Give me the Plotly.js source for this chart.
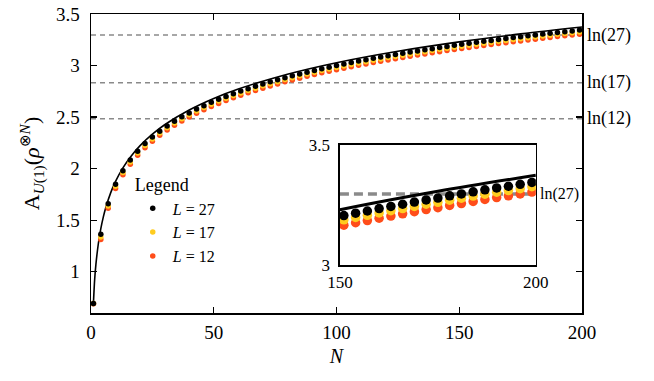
<!DOCTYPE html>
<html>
<head>
<meta charset="utf-8">
<script src="https://cdn.plot.ly/plotly-3.0.1.min.js"></script>
<style>
  html, body { margin: 0; padding: 0; background: #fff; }
  #chart { width: 654px; height: 381px; }
</style>
</head>
<body>
<div id="chart"></div>
<script>
// sampled sizes N (every third value)
const nVals = [1, 4, 7, 10, 13, 16, 19, 22, 25, 28, 31, 34, 37, 40, 43, 46, 49, 52, 55, 58,
  61, 64, 67, 70, 73, 76, 79, 82, 85, 88, 91, 94, 97, 100, 103, 106, 109, 112, 115, 118,
  121, 124, 127, 130, 133, 136, 139, 142, 145, 148, 151, 154, 157, 160, 163, 166, 169, 172, 175, 178,
  181, 184, 187, 190, 193, 196, 199];

const aL27 = [0.693, 1.365, 1.660, 1.848, 1.980, 2.083, 2.169, 2.243, 2.306, 2.363,
  2.414, 2.460, 2.503, 2.541, 2.578, 2.611, 2.643, 2.673, 2.701, 2.727,
  2.752, 2.776, 2.799, 2.821, 2.842, 2.862, 2.882, 2.900, 2.918, 2.936,
  2.952, 2.969, 2.984, 3.000, 3.014, 3.029, 3.043, 3.056, 3.070, 3.082,
  3.095, 3.107, 3.119, 3.131, 3.142, 3.153, 3.164, 3.175, 3.185, 3.196,
  3.206, 3.216, 3.225, 3.235, 3.244, 3.253, 3.262, 3.271, 3.279, 3.288,
  3.296, 3.305, 3.313, 3.321, 3.328, 3.336, 3.344];

const aL17 = [0.693, 1.338, 1.637, 1.830, 1.962, 2.065, 2.151, 2.225, 2.288, 2.345,
  2.396, 2.442, 2.485, 2.523, 2.560, 2.593, 2.625, 2.655, 2.683, 2.709,
  2.734, 2.758, 2.781, 2.803, 2.824, 2.844, 2.864, 2.882, 2.900, 2.918,
  2.934, 2.951, 2.966, 2.982, 2.996, 3.011, 3.025, 3.038, 3.052, 3.064,
  3.077, 3.089, 3.101, 3.113, 3.124, 3.135, 3.146, 3.157, 3.167, 3.178,
  3.188, 3.198, 3.207, 3.217, 3.226, 3.235, 3.244, 3.253, 3.261, 3.270,
  3.278, 3.287, 3.295, 3.303, 3.310, 3.318, 3.326];

const aL12 = [0.690, 1.312, 1.615, 1.808, 1.940, 2.043, 2.129, 2.203, 2.266, 2.323,
  2.374, 2.420, 2.463, 2.501, 2.538, 2.571, 2.603, 2.633, 2.661, 2.687,
  2.712, 2.736, 2.759, 2.781, 2.802, 2.822, 2.842, 2.860, 2.878, 2.896,
  2.912, 2.929, 2.944, 2.960, 2.974, 2.989, 3.003, 3.016, 3.030, 3.042,
  3.055, 3.067, 3.079, 3.091, 3.102, 3.113, 3.124, 3.135, 3.145, 3.156,
  3.166, 3.176, 3.185, 3.195, 3.204, 3.213, 3.222, 3.231, 3.239, 3.248,
  3.256, 3.265, 3.273, 3.281, 3.288, 3.296, 3.304];

// asymptotic curve (black line)
const curveN = [1, 1.5, 2, 3, 4, 5, 6, 8, 10, 13, 16, 20, 25, 30, 40, 50, 60, 80, 100, 125, 150, 175, 200];
const curveA = [0.70, 0.928, 1.072, 1.274, 1.418, 1.530, 1.621, 1.765, 1.876, 2.007, 2.111, 2.223,
  2.334, 2.426, 2.569, 2.681, 2.772, 2.916, 3.028, 3.139, 3.230, 3.307, 3.374];

// reference levels ln(L)
const levelLabels = ['ln(27)', 'ln(17)', 'ln(12)'];
const levelValues = [3.296, 2.833, 2.485];

const series = [
  { name: '<i>L</i> = 12', y: aL12, color: '#ff4d1a', rank: 3 },
  { name: '<i>L</i> = 17', y: aL17, color: '#ffcc1f', rank: 2 },
  { name: '<i>L</i> = 27', y: aL27, color: '#000000', rank: 1 },
];

const FONT = "'Liberation Serif', 'Times New Roman', Times, serif";

const traces = [];
traces.push({
  x: curveN, y: curveA, mode: 'lines', line: { color: '#000', width: 1.6, shape: 'spline' },
  showlegend: false, hoverinfo: 'skip',
});
series.forEach(s => {
  traces.push({
    x: nVals, y: s.y, mode: 'markers', name: s.name, legendrank: s.rank,
    marker: { color: s.color, size: 5.5 },
  });
});
// inset
traces.push({
  x: curveN, y: curveA, mode: 'lines', xaxis: 'x2', yaxis: 'y2',
  line: { color: '#000', width: 3, shape: 'spline' }, showlegend: false, hoverinfo: 'skip',
});
series.forEach(s => {
  traces.push({
    x: nVals, y: s.y, mode: 'markers', xaxis: 'x2', yaxis: 'y2', showlegend: false,
    marker: { color: s.color, size: 9.5 },
  });
});

const shapes = levelValues.map(v => ({
  type: 'line', xref: 'paper', yref: 'y', x0: 0, x1: 1, y0: v, y1: v, layer: 'below',
  line: { color: '#8a8a8a', width: 1.5, dash: '5px,4px' },
}));
shapes.push({
  type: 'line', xref: 'x2', yref: 'y2', x0: 150, x1: 200, y0: levelValues[0], y1: levelValues[0], layer: 'below',
  line: { color: '#8a8a8a', width: 3.5, dash: '9px,5px' },
});

const annotations = levelValues.map((v, i) => ({
  xref: 'paper', yref: 'y', x: 1, y: v, xanchor: 'left', yanchor: 'middle', xshift: 3,
  text: levelLabels[i], showarrow: false, font: { family: FONT, size: 18, color: '#000' },
}));
annotations.push({
  xref: 'x2', yref: 'y2', x: 200, y: levelValues[0], xanchor: 'left', yanchor: 'middle', xshift: 2,
  text: levelLabels[0], showarrow: false, font: { family: FONT, size: 16, color: '#000' },
});

const axisBase = {
  showline: true, linecolor: '#000', linewidth: 1.5, mirror: 'ticks',
  ticks: 'inside', ticklen: 6, tickwidth: 1.3, tickcolor: '#000',
  showgrid: false, zeroline: false,
  tickfont: { family: FONT, size: 19, color: '#000' },
};

const layout = {
  width: 654, height: 381,
  margin: { l: 91, r: 72, t: 14, b: 68 },
  paper_bgcolor: '#fff', plot_bgcolor: '#fff',
  font: { family: FONT, color: '#000' },
  xaxis: {
    ...axisBase, range: [0, 200], tickvals: [0, 50, 100, 150, 200], ticklabelstandoff: 2,
    title: { text: '<i>N</i>', font: { family: FONT, size: 20 }, standoff: 6 },
  },
  yaxis: {
    ...axisBase, range: [0.6, 3.5], tickvals: [1, 1.5, 2, 2.5, 3, 3.5], ticklabelstandoff: 6,
    title: { text: 'A<sub><i>U</i>(1)</sub>(<i>ρ</i><sup>⊗<i>N</i></sup>)', font: { family: FONT, size: 22 }, standoff: 10 },
  },
  xaxis2: {
    domain: [0.507, 0.906], anchor: 'y2', range: [150, 200], tickvals: [150, 200],
    showline: true, linecolor: '#000', linewidth: 1.5, mirror: true, ticks: '',
    showgrid: false, zeroline: false, ticklabelstandoff: 1,
    tickfont: { family: FONT, size: 17, color: '#000' },
  },
  yaxis2: {
    domain: [0.1605, 0.562], anchor: 'x2', range: [3, 3.5], tickvals: [3, 3.5],
    showline: true, linecolor: '#000', linewidth: 1.5, mirror: true, ticks: '',
    showgrid: false, zeroline: false, ticklabelstandoff: 5,
    tickfont: { family: FONT, size: 17, color: '#000' },
  },
  legend: {
    x: 0.085, y: 0.485, xanchor: 'left', yanchor: 'top',
    bgcolor: 'rgba(0,0,0,0)', borderwidth: 0,
    font: { family: FONT, size: 16, color: '#000' },
    title: { text: 'Legend', font: { family: FONT, size: 18 } },
    itemwidth: 30, tracegroupgap: 0,
  },
  shapes, annotations,
  showlegend: true,
};

Plotly.newPlot('chart', traces, layout, { displayModeBar: false, staticPlot: true });
</script>
</body>
</html>
